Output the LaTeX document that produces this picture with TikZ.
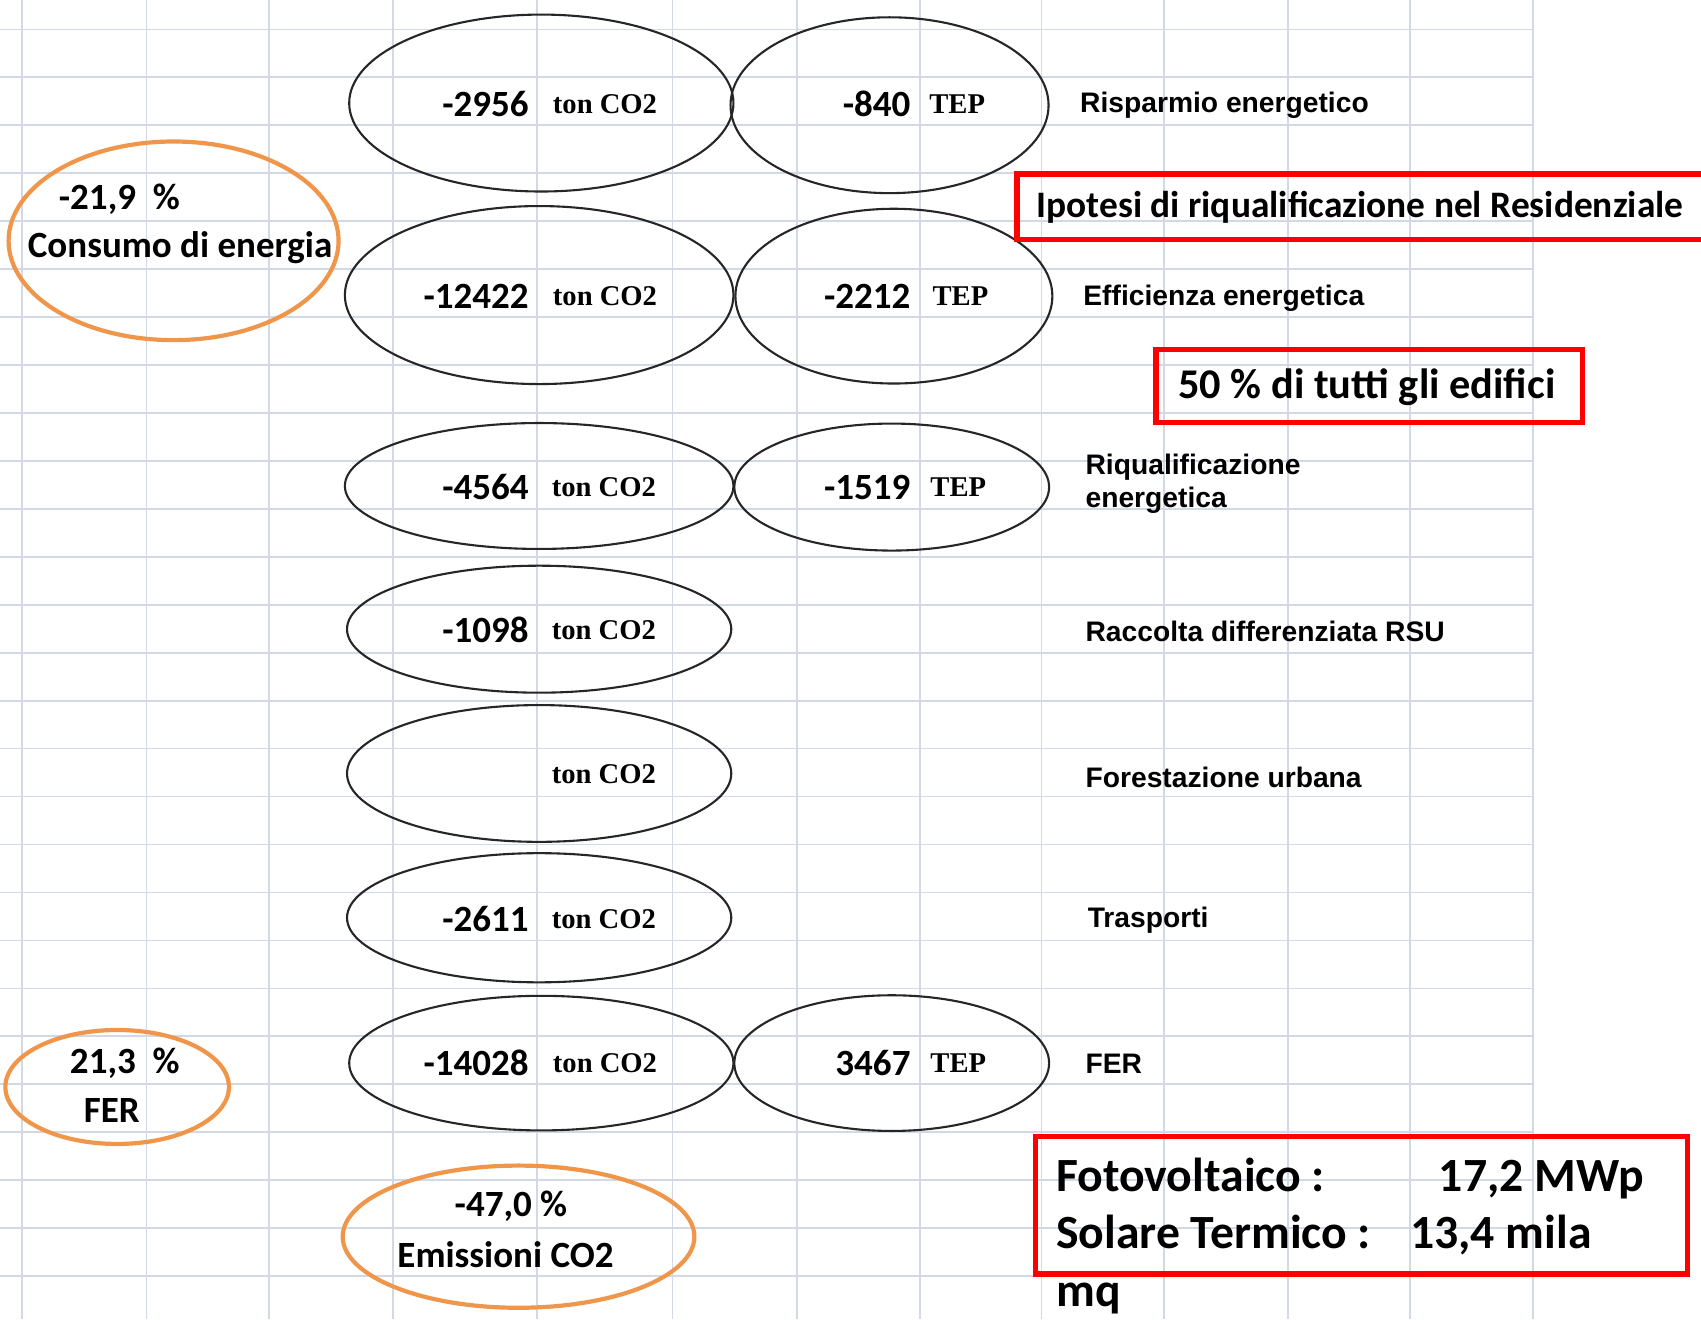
\documentclass[tikz,border=0pt]{standalone}
\usepackage{fontspec}
\setmainfont{Carlito}
\newfontfamily\tonfont{Liberation Serif}
\newfontfamily\labfont{Liberation Sans}
\usepackage{tikz}
\usetikzlibrary{shapes.geometric,positioning}
\definecolor{gridblue}{HTML}{D3D8E6}
\definecolor{ovalorange}{HTML}{F0964A}
\definecolor{boxred}{HTML}{FF0000}

\begin{document}
\begin{tikzpicture}[x=0.01cm, y=-0.01cm,
    gridline/.style={draw=gridblue, line width=0.45pt},
    oval/.style={ellipse, draw=black!85, line width=0.55pt, inner sep=0pt},
    pctoval/.style={ellipse, draw=ovalorange, line width=1.1pt, inner sep=0pt},
    redbox/.style={draw=boxred, line width=1.4pt, inner sep=0pt},
    num/.style={anchor=east, inner sep=0pt, font=\bfseries\fontsize{9.7}{11}\selectfont},
    unit/.style={anchor=west, inner sep=0pt, font=\tonfont\bfseries\fontsize{7.5}{9}\selectfont},
    lbl/.style={anchor=west, inner sep=0pt, align=left, font=\labfont\bfseries\fontsize{7.4}{8.8}\selectfont},
    pct/.style={inner sep=0pt, font=\bfseries\fontsize{9.7}{11}\selectfont}]

    \useasboundingbox (0,0) rectangle (1568,1216);
    \clip (0,0) rectangle (1568,1216);
    \fill[white] (0,0) rectangle (1568,1216);

    % spreadsheet grid
    \foreach \gx in {20,135,248,362,495,620,735,848,960,1073,1187,1300,1413}
        \draw[gridline] (\gx,0) -- (\gx,1216);
    \foreach \k in {0,...,26}
        \draw[gridline] (0,27.1+44.2*\k) -- (1413,27.1+44.2*\k);

    % ton CO2 ellipses
    \node[oval, minimum width=3.54cm, minimum height=1.63cm] (co2risp) at (499,95) {};
    \node[oval, minimum width=3.58cm, minimum height=1.64cm] (co2eff) at (497,272) {};
    \node[oval, minimum width=3.58cm, minimum height=1.16cm] (co2riq) at (497,448) {};
    \node[oval, minimum width=3.54cm, minimum height=1.17cm] (co2rsu) at (497,580) {};
    \node[oval, minimum width=3.54cm, minimum height=1.26cm] (co2for) at (497,713) {};
    \node[oval, minimum width=3.54cm, minimum height=1.19cm] (co2tra) at (497,846) {};
    \node[oval, minimum width=3.54cm, minimum height=1.24cm] (co2fer) at (499,980) {};

    % TEP ellipses
    \node[oval, minimum width=2.93cm, minimum height=1.62cm] (teprisp) at (820,97) {};
    \node[oval, minimum width=2.92cm, minimum height=1.61cm] (tepeff) at (824,273) {};
    \node[oval, minimum width=2.90cm, minimum height=1.17cm] (tepriq) at (822,449) {};
    \node[oval, minimum width=2.90cm, minimum height=1.25cm] (tepfer) at (822,980) {};

    % values
    \node[num] (vrisp) at (488,96) {-2956};
    \node[unit] (urisp) at (509,96) {ton CO2};
    \node[num] (veff) at (488,273) {-12422};
    \node[unit] (ueff) at (509,273) {ton CO2};
    \node[num] (vriq) at (488,449) {-4564};
    \node[unit] (uriq) at (508,449) {ton CO2};
    \node[num] (vrsu) at (488,581) {-1098};
    \node[unit] (ursu) at (508,581) {ton CO2};
    \node[unit] (ufor) at (508,714) {ton CO2};
    \node[num] (vtra) at (488,847) {-2611};
    \node[unit] (utra) at (508,847) {ton CO2};
    \node[num] (vfer) at (488,980) {-14028};
    \node[unit] (ufer) at (509,980) {ton CO2};

    \node[num] (trisp) at (840,96) {-840};
    \node[unit] (trispu) at (856,96) {TEP};
    \node[num] (teff) at (840,273) {-2212};
    \node[unit] (teffu) at (859,273) {TEP};
    \node[num] (triq) at (840,449) {-1519};
    \node[unit] (triqu) at (857,449) {TEP};
    \node[num] (tfer) at (840,980) {3467};
    \node[unit] (tferu) at (857,980) {TEP};

    % row labels
    \node[lbl] (lrisp) at (995,97) {Risparmio energetico};
    \node[lbl] (leff) at (998,275) {Efficienza energetica};
    \node[lbl] (lriq) at (1000,446) {Riqualificazione\\energetica};
    \node[lbl] (lrsu) at (1000,582) {Raccolta differenziata RSU};
    \node[lbl] (lfor) at (1000,717) {Forestazione urbana};
    \node[lbl] (ltra) at (1002,848) {Trasporti};
    \node[lbl] (lfer) at (1000,981) {FER};

    % percentage ovals
    \node[pctoval, minimum width=3.04cm, minimum height=1.83cm] (consumo) at (160,222) {};
    \node[pct] (pcons) at (110,184) {-21,9~~\%};
    \node[pct] (tcons) at (166,228) {Consumo di energia};
    \node[pctoval, minimum width=2.06cm, minimum height=1.05cm] (ferpct) at (108,1002) {};
    \node[pct] (pfer) at (115,980) {21,3~~\%};
    \node[pct] (tfer2) at (103,1024) {FER};
    \node[pctoval, minimum width=3.24cm, minimum height=1.31cm] (emiss) at (478,1140) {};
    \node[pct] (pemi) at (471,1112) {-47,0 \%};
    \node[pct] (temi) at (466,1157) {Emissioni CO2};

    % red notes
    \node[redbox, minimum width=6.6cm, minimum height=0.6cm, anchor=north west] (ipotbox) at (935,158) {};
    \node[anchor=west, inner sep=0pt, font=\bfseries\fontsize{9.8}{11}\selectfont] (ipot) at (955,191) {Ipotesi di riqualificazione nel Residenziale};
    \node[redbox, minimum width=3.93cm, minimum height=0.67cm, anchor=north west] (edifbox) at (1063,320) {};
    \node[inner sep=0pt, font=\bfseries\fontsize{11.1}{13}\selectfont] (edif) at (1260,357) {50 \% di tutti gli edifici};
    \node[redbox, minimum width=6.01cm, minimum height=1.27cm, anchor=north west] (solbox) at (952,1045) {};
    \node[anchor=north west, inner sep=0pt, align=left, font=\bfseries\fontsize{12.5}{15}\selectfont] (sol) at (973,1067)
        {Fotovoltaico :\hspace{1.05cm}17,2 MWp\\Solare Termico :\hspace{0.36cm}13,4 mila\\mq};
\end{tikzpicture}
\end{document}
